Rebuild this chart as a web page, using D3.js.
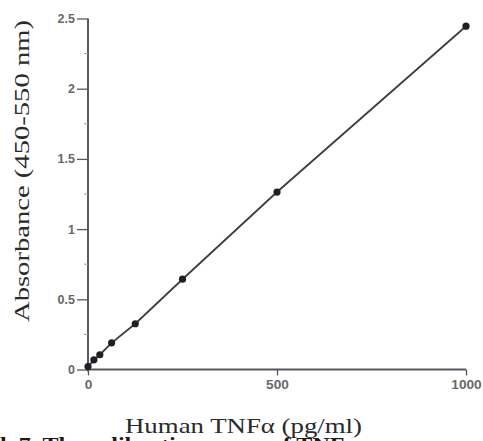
<!DOCTYPE html>
<html><head><meta charset="utf-8">
<script src="https://cdn.jsdelivr.net/npm/d3@7/dist/d3.min.js"></script>
<style>body{margin:0;background:#fff}svg{display:block}</style>
</head><body>
<svg id="c" width="483" height="441"></svg>
<script>
const concentrations = [0, 15.6, 31.25, 62.5, 125, 250, 500, 1000];
const absorbances = [0.021, 0.069, 0.105, 0.19, 0.326, 0.643, 1.264, 2.445];
const xTicks = [0, 500, 1000];
const yTicks = [0, 0.5, 1, 1.5, 2, 2.5];
const yMinorTicks = [0.25, 0.75, 1.25, 1.75, 2.25];
const xTitle = "Human TNFα (pg/ml)";
const yTitle = "Absorbance (450-550 nm)";
const caption = "l. 7. The calibration curve of TNFα";

const svg = d3.select("#c");
const x = d3.scaleLinear().domain([0, 1000]).range([88, 466]);
const y = d3.scaleLinear().domain([0, 2.5]).range([369.5, 18.5]);

const axisColor = "#55595e";
const labelColor = "#66696c";

// y axis
const gy = svg.append("g").attr("transform", `translate(${x(0)},0)`)
  .call(d3.axisLeft(y).tickValues(yTicks).tickSize(11).tickPadding(2)
    .tickFormat(d => String(d)));
gy.select(".domain").attr("stroke", axisColor).attr("stroke-width", 2)
  .attr("d", `M0,${y(2.5)}V${y(0)+2}`);
gy.selectAll(".tick line").attr("stroke", axisColor).attr("stroke-width", 1.3);
gy.selectAll(".tick text").attr("fill", labelColor)
  .style("font-family", "'Liberation Sans', Arial, sans-serif")
  .style("font-size", "12.5px").style("font-weight", "bold");
gy.selectAll(".minor").data(yMinorTicks).enter().append("line")
  .attr("x1", -4).attr("x2", 0).attr("y1", d => y(d)).attr("y2", d => y(d))
  .attr("stroke", "#9a9da0").attr("stroke-width", 1);

// x axis
const gx = svg.append("g").attr("transform", `translate(0,${y(0)})`)
  .call(d3.axisBottom(x).tickValues(xTicks).tickSize(6).tickPadding(5)
    .tickFormat(d => String(d)));
gx.select(".domain").attr("stroke", axisColor).attr("stroke-width", 2.2)
  .attr("d", `M${x(0)-2},0H${x(1000)}`);
gx.selectAll(".tick line").attr("stroke", axisColor).attr("stroke-width", 1.3);
gx.selectAll(".tick text").attr("fill", labelColor)
  .style("font-family", "'Liberation Sans', Arial, sans-serif")
  .style("font-size", "12.5px").style("font-weight", "bold")
  .attr("textLength", d => String(d).length * 7.6).attr("lengthAdjust", "spacingAndGlyphs");

// data line
const pts = concentrations.map((c, i) => [c, absorbances[i]]);
svg.append("path").datum(pts)
  .attr("fill", "none").attr("stroke", "#3c3f42").attr("stroke-width", 1.8)
  .attr("d", d3.line().x(d => x(d[0])).y(d => y(d[1])));
svg.selectAll(".pt").data(pts).enter().append("circle")
  .attr("cx", d => x(d[0])).attr("cy", d => y(d[1])).attr("r", 3.6)
  .attr("fill", "#1e2124");

// titles
svg.append("text").text(xTitle)
  .attr("x", 243.5).attr("y", 433).attr("text-anchor", "middle")
  .attr("fill", "#2a2a2a")
  .style("font-family", "'Liberation Serif', 'Times New Roman', serif")
  .style("font-size", "21px")
  .attr("textLength", 237).attr("lengthAdjust", "spacingAndGlyphs");

svg.append("text").text(yTitle)
  .attr("transform", "translate(29,171) rotate(-90)")
  .attr("text-anchor", "middle").attr("fill", "#2a2a2a")
  .style("font-family", "'Liberation Serif', 'Times New Roman', serif")
  .style("font-size", "20px")
  .attr("textLength", 302).attr("lengthAdjust", "spacingAndGlyphs");

// caption (cut at the bottom edge)
svg.append("text").text(caption)
  .attr("x", 0).attr("y", 452).attr("fill", "#1a1a1a")
  .style("font-family", "'Liberation Serif', 'Times New Roman', serif")
  .style("font-size", "21px").style("font-weight", "bold")
  .attr("textLength", 358).attr("lengthAdjust", "spacingAndGlyphs");
</script>
</body></html>
